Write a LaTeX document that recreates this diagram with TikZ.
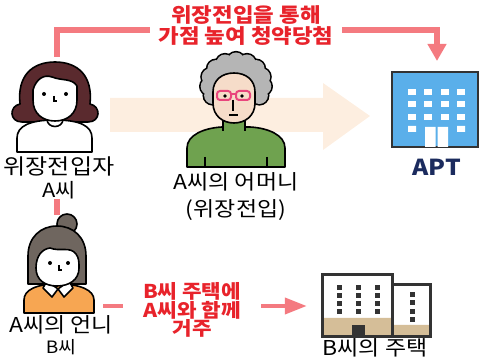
\documentclass[tikz,border=0pt]{standalone}
\usepackage{fontspec}
\setmainfont{Noto Sans CJK KR}[FakeStretch=1.12]
\usetikzlibrary{arrows.meta}
\definecolor{warnred}{HTML}{E8232B}
\definecolor{linkpink}{HTML}{F47A80}
\definecolor{peach}{HTML}{FDEEE0}
\definecolor{hairA}{HTML}{5A2A2E}
\definecolor{hairB}{HTML}{6F665F}
\definecolor{hairMom}{HTML}{B5B5B5}
\definecolor{skin}{HTML}{F6DCC9}
\definecolor{sweater}{HTML}{6FA24F}
\definecolor{shirtB}{HTML}{F7A652}
\definecolor{glasspink}{HTML}{E9467D}
\definecolor{aptblue}{HTML}{5AAFEA}
\definecolor{aptnavy}{HTML}{1B2B5E}
\definecolor{tan}{HTML}{D5BE98}
\definecolor{darkline}{HTML}{333333}

\tikzset{
  capt/.style={align=center, inner sep=0pt, font=\fontsize{20.5}{23}\selectfont},
  redcapt/.style={align=center, text=warnred, inner ysep=0pt, font=\bfseries\fontsize{20}{21}\selectfont},
  outline/.style={draw=black, line width=1.6pt, line join=round},
  redlink/.style={draw=linkpink, line width=6pt},
  pinklink/.style={draw=linkpink, line width=4pt},
}

\begin{document}
\begin{tikzpicture}[x=1pt, y=-1pt]
  \useasboundingbox (0,0) rectangle (480,363);

  % wide arrow behind the mother
  \fill[peach] (110,98) -- (323,98) -- (323,83) -- (370,116) -- (323,150) -- (323,132) -- (110,132) -- cycle;

  % A
  \draw[outline, fill=hairA] (20,104) .. controls (17,76) and (32,62) .. (55,62)
    .. controls (78,62) and (93,76) .. (90,104) .. controls (101,106) and (101,122) .. (88,122)
    -- (22,122) .. controls (9,122) and (9,106) .. (20,104) -- cycle;
  \draw[outline, fill=white] (17,152) -- (17,138) .. controls (17,126) and (30,120) .. (55,120)
    .. controls (80,120) and (92,126) .. (92,138) -- (92,152) -- cycle;
  \draw[outline, fill=white] (47,119) .. controls (47,129) and (63,129) .. (63,119);
  \draw[outline, fill=white] (33,90) .. controls (36,79) and (44,74) .. (52,77)
    .. controls (62,81) and (72,78) .. (77,86) -- (77,100) .. controls (77,114) and (67,121) .. (55,121)
    .. controls (43,121) and (33,114) .. (33,100) -- cycle;
  \fill (44,94) circle (2) (66,94) circle (2);
  \draw[line width=1.2pt] (54,96) -- (54,101) -- (57,101);

  % mother
  \foreach \a in {-30,-6,...,210}
    \draw[line width=3.2pt] ({236+27*cos(\a)},{84-23*sin(\a)}) circle (8.5);
  \fill[hairMom] (236,84) ellipse (28 and 24);
  \foreach \a in {-30,-6,...,210}
    \fill[hairMom] ({236+27*cos(\a)},{84-23*sin(\a)}) circle (8.5);
  \draw[outline, fill=sweater] (187,167) -- (187,148) .. controls (187,135) and (204,128) .. (222,127)
    -- (250,127) .. controls (268,128) and (285,135) .. (285,148) -- (285,167) -- cycle;
  \draw[outline, fill=sweater] (223,131) -- (223,116) -- (245,116) -- (245,131);
  \draw[outline, fill=skin] (213,92) .. controls (213,80) and (222,73) .. (234,73)
    .. controls (246,73) and (255,80) .. (255,92) -- (255,103) .. controls (255,116) and (245,123) .. (234,123)
    .. controls (223,123) and (213,116) .. (213,103) -- cycle;
  \draw[glasspink, line width=2pt, rounded corners=3pt] (217,91) rectangle (231,100) (236,91) rectangle (250,100);
  \draw[glasspink, line width=2pt] (231,94) -- (236,94);
  \fill (225,96) circle (1.8) (242,96) circle (1.8);
  \draw[line width=1.4pt] (233,100) -- (233,111) (229,115) -- (238,115);
  \draw[line width=1.4pt] (205,157) -- (205,167) (267,157) -- (267,167);

  % B
  \draw[outline, fill=hairB] (67,224) circle (10);
  \draw[outline, fill=hairB] (28,284) -- (28,256) .. controls (28,237) and (41,226) .. (57,226)
    .. controls (73,226) and (86,237) .. (86,256) -- (86,284) -- cycle;
  \draw[outline, fill=shirtB] (24,313) -- (24,300) .. controls (24,290) and (36,284) .. (58,284)
    .. controls (80,284) and (94,290) .. (94,300) -- (94,313) -- cycle;
  \draw[outline, fill=white] (47,281) -- (58,289) -- (52,297) -- (43,288) -- cycle;
  \draw[outline, fill=white] (69,281) -- (58,289) -- (64,297) -- (73,288) -- cycle;
  \draw[outline, fill=white] (36,268) .. controls (36,256) and (42,249) .. (50,248)
    .. controls (60,252) and (70,246) .. (76,254) .. controls (79,258) and (79,262) .. (79,268)
    .. controls (79,280) and (69,286) .. (57,286)
    .. controls (45,286) and (36,280) .. (36,268) -- cycle;
  \fill (50,263) circle (2) (68,263) circle (2);
  \draw[line width=1.2pt] (59,265) -- (59,270) -- (62,270);

  % apartment
  \node[draw=darkline, line width=2pt, fill=aptblue, minimum width=86pt, minimum height=75pt, inner sep=0pt] (apt) at (435,109.5) {};
  \foreach \x in {412,428,445,461}
    \foreach \y in {92,104,117}
      \fill[white] (\x-4,\y-3) rectangle ++(8,6);
  \fill[white] (408,126) rectangle ++(8,6) (457,126) rectangle ++(8,6);
  \fill[white] (425,127) rectangle (435.5,147) (437.5,127) rectangle (448,147);

  % house of B
  \node[minimum width=70pt, minimum height=62pt, inner sep=0pt] (houseB) at (357,306) {};
  \fill[white] (322,275) rectangle (392,337) (392,285) rectangle (430,337);
  \fill[tan] (322,318) rectangle (392,337) (392,325) rectangle (430,337);
  \foreach \x in {339,358,377}
    \foreach \y in {288,296,304,312}
      \fill[darkline] (\x-2.5,\y-2.5) rectangle ++(5,5);
  \foreach \y in {295,303,312,320}
    \fill[darkline] (409.5,\y-2.5) rectangle ++(5,5);
  \fill[darkline] (352,325) rectangle (365,337);
  \draw[darkline, line width=3pt] (322,275) rectangle (392,337) (392,285) rectangle (430,337);

  % captions
  \node[capt, font=\fontsize{21.5}{23}\selectfont] (labelA) at (59,177.5) {위장전입자\\{\fontsize{19.5}{23}\selectfont A씨}};
  \node[capt, font=\fontsize{20.5}{27}\selectfont] (labelMom) at (236,196.5) {A씨의 어머니\\(위장전입)};
  \node[capt, font=\fontsize{20.5}{21}\selectfont] (labelB) at (61,335.5) {A씨의 언니\\{\fontsize{17}{21}\selectfont B씨}};
  \node[text=aptnavy, font=\bfseries\fontsize{22}{24}\selectfont, inner sep=0pt] (aptname) at (437,167) {APT};
  \node[capt] (houseName) at (375,348) {B씨의 주택};

  \node[redcapt, inner xsep=8pt] (note) at (246,25.5) {위장전입을 통해\\가점 높여 청약당첨};
  \node[redcapt, inner xsep=20pt, font=\bfseries\fontsize{19}{18.5}\selectfont] (noteB) at (192,310) {B씨 주택에\\A씨와 함께\\거주};

  % connectors
  \coordinate (topA) at (57,57);
  \coordinate (topB) at (57,215);
  \coordinate (sideB) at (103,306);
  \coordinate (aptTip) at (437,61);
  \draw[redlink] (topA) |- ([yshift=-4.5pt]note.west);
  \draw[redlink, -{Triangle[width=18pt,length=17pt]}] ([yshift=-4.5pt]note.east) -| (aptTip);
  \draw[redlink] (labelA.south -| topB) -- (topB);
  \draw[pinklink] (sideB) -- (noteB.west |- sideB);
  \draw[pinklink, shorten >=15pt, -{Triangle[width=16pt,length=22pt]}] (noteB.east |- houseB.west) -- (houseB.west);
\end{tikzpicture}
\end{document}
